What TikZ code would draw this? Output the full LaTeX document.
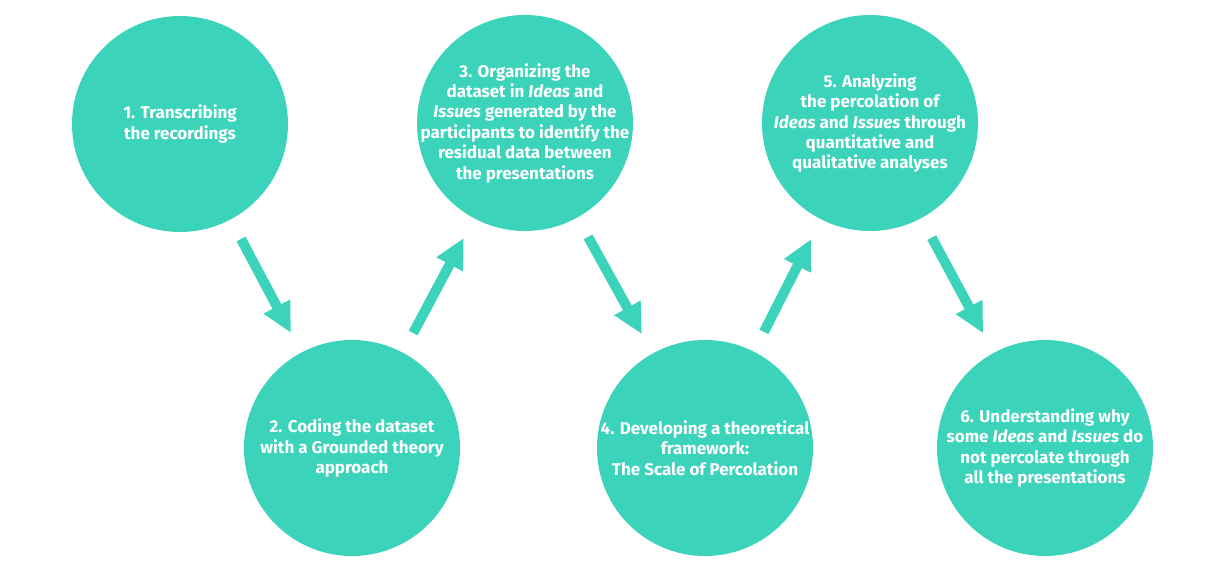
\documentclass[tikz,border=0pt]{standalone}
\usepackage{fontspec}
\setmainfont{Fira Sans}
\usetikzlibrary{arrows.meta}

\definecolor{stepteal}{HTML}{3CD3BB}

\tikzset{
  stepcircle/.style={circle, fill=stepteal, minimum size=216pt, inner sep=-15pt,
    text=white, align=center, font=\fontsize{17}{20.4}\selectfont\bfseries},
  steparrow/.style={draw=stepteal, line width=10pt,
    -{Triangle[length=30pt,width=28pt]}, shorten <=22pt, shorten >=22pt}
}

\begin{document}
\begin{tikzpicture}[x=1pt,y=-1pt]
  % cadre
  \useasboundingbox (0,0) rectangle (1224,572);

  % etapes (rangee du haut)
  \node[stepcircle] (s1) at (180,124) {1. Transcribing\\the recordings};
  \node[stepcircle] (s3) at (525,123) {3. Organizing the\\dataset in \textit{Ideas} and\\\textit{Issues} generated by the\\participants to identify the\\residual data between\\the presentations};
  \node[stepcircle] (s5) at (870,123) {5. Analyzing\\the percolation of\\\textit{Ideas} and \textit{Issues} through\\quantitative and\\qualitative analyses};

  % etapes (rangee du bas)
  \node[stepcircle] (s2) at (352,448) {2. Coding the dataset\\with a Grounded theory\\approach};
  \node[stepcircle] (s4) at (705,448) {4. Developing a theoretical\\framework:\\The Scale of Percolation};
  \node[stepcircle] (s6) at (1045,448) {6. Understanding why\\some \textit{Ideas} and \textit{Issues} do\\not percolate through\\all the presentations};

  % fleches
  \draw[steparrow] (s1) -- (s2);
  \draw[steparrow] (s2) -- (s3);
  \draw[steparrow] (s3) -- (s4);
  \draw[steparrow] (s4) -- (s5);
  \draw[steparrow] (s5) -- (s6);
\end{tikzpicture}
\end{document}
